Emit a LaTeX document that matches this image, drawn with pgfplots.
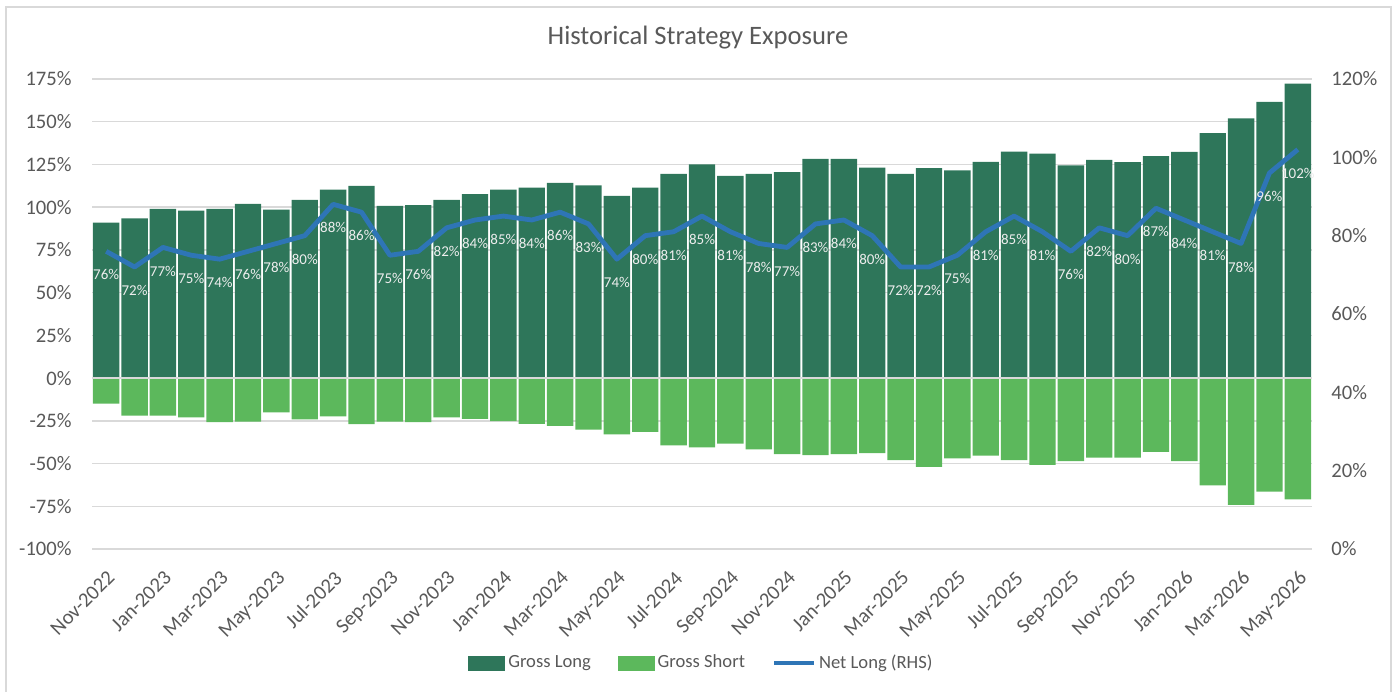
\documentclass[border=0pt]{standalone}
\usepackage{fontspec}
\setmainfont{Carlito}
\usepackage{pgfplots}
\usepackage{pgfplotstable}
\pgfplotsset{compat=1.18}
\definecolor{gl}{HTML}{2E765A}
\definecolor{gs}{HTML}{5CB85C}
\definecolor{nl}{HTML}{2E75B6}
\definecolor{txt}{HTML}{595959}
\definecolor{grd}{HTML}{D9D9D9}
\definecolor{lbl}{HTML}{EDEDED}

\pgfplotstableread{
idx long short net
0 91 -15 76
1 93.5 -22 72
2 99 -22 77
3 98 -23 75
4 99 -25.8 74
5 102 -25.4 76
6 98.6 -20 78
7 104.3 -24.2 80
8 110.3 -22.4 88
9 112.5 -27 86
10 100.8 -25.4 75
11 101.2 -25.8 76
12 104.3 -23 82
13 107.6 -23.8 84
14 110.3 -25.2 85
15 111.5 -26.8 84
16 114.2 -28 86
17 112.7 -30.1 83
18 106.6 -32.9 74
19 111.5 -31.5 80
20 119.5 -39.4 81
21 125 -40.6 85
22 118.3 -38.4 81
23 119.5 -41.7 78
24 120.5 -44.5 77
25 128.3 -45.1 83
26 128.3 -44.5 84
27 123.2 -43.9 80
28 119.5 -48 72
29 122.8 -52 72
30 121.6 -47 75
31 126.5 -45.3 81
32 132.5 -48 85
33 131.4 -50.8 81
34 124.4 -48.6 76
35 127.7 -46.5 82
36 126.3 -46.5 80
37 129.8 -43.1 87
38 132.4 -48.6 84
39 143.3 -62.8 81
40 151.9 -74.2 78
41 161.6 -66.5 96
42 172.3 -70.9 102
}\data

\begin{document}
\begin{tikzpicture}[x=1pt,y=1pt]
\path[use as bounding box] (0,0) rectangle (698.5,345.5);
\draw[grd, line width=0.8pt] (3,-2) -- (3,342) -- (695.5,342) -- (695.5,-2);
\node[text=txt, font=\fontsize{13.3}{16}\selectfont] at (349,326.5) {Historical Strategy Exposure};
\pgfplotsset{common/.style={
  width=610pt, height=235pt, scale only axis,
  xmin=-0.5, xmax=42.5,
  at={(46pt,71pt)}, anchor=south west,
  /pgf/number format/assume math mode=true,
  ticklabel style={font=\fontsize{10.3}{12}\selectfont, text=txt},
  major tick length=0pt, tick style={draw=none},
}}
\begin{axis}[common,
  ymin=-100, ymax=175, ytick={-100,-75,...,175},
  yticklabel={\pgfmathprintnumber{\tick}\%},
  ymajorgrids, grid style={grd, line width=0.7pt},
  axis line style={draw=none},
  xtick={0,2,...,42},
  xticklabels={Nov-2022,Jan-2023,Mar-2023,May-2023,Jul-2023,Sep-2023,Nov-2023,Jan-2024,Mar-2024,May-2024,Jul-2024,Sep-2024,Nov-2024,Jan-2025,Mar-2025,May-2025,Jul-2025,Sep-2025,Nov-2025,Jan-2026,Mar-2026,May-2026},
  xticklabel style={xshift=0pt, yshift=-10pt, rotate=45, anchor=north east, inner sep=0pt},
  yticklabel style={anchor=east, inner sep=0pt, xshift=-10pt},
  ybar, bar width=0.93,
]
\addplot[fill=gl, draw=none, bar shift=0pt] table[x=idx,y=long]{\data};
\addplot[fill=gs, draw=none, bar shift=0pt] table[x=idx,y=short]{\data};
\draw[grd, line width=0.8pt] (axis cs:-0.5,0) -- (axis cs:42.5,0);
\end{axis}
\begin{axis}[common,
  ymin=0, ymax=120, ytick={0,20,...,120},
  yticklabel={\pgfmathprintnumber{\tick}\%},
  axis y line*=right, axis x line=none,
  y axis line style={draw=none},
  yticklabel style={anchor=west, inner sep=0pt, xshift=9.5pt},
  legend style={at={(0.5,-0.2426)}, anchor=center, draw=none, fill=none,
    legend columns=-1, font=\fontsize{9.3}{11}\selectfont, text=txt,
    /tikz/every even column/.append style={column sep=12pt},
    nodes={inner sep=1.5pt}},
]
\addlegendimage{legend image code/.code={\fill[gl] (0pt,-3.5pt) rectangle (18pt,3.5pt);}}
\addlegendimage{legend image code/.code={\fill[gs] (0pt,-3.5pt) rectangle (18pt,3.5pt);}}
\addplot[nl, line width=2.4pt, line join=round,
  legend image code/.code={\draw[nl, line width=2pt] (0pt,0pt) -- (20pt,0pt);},
  nodes near coords={\pgfmathprintnumber{\pgfplotspointmeta}\%},
  every node near coord/.style={font=\fontsize{7.5}{9}\selectfont, text=lbl, anchor=north, yshift=-7pt, inner sep=1pt}]
  table[x=idx,y=net]{\data};
\legend{Gross Long, Gross Short, Net Long (RHS)}
\end{axis}
\end{tikzpicture}
\end{document}
